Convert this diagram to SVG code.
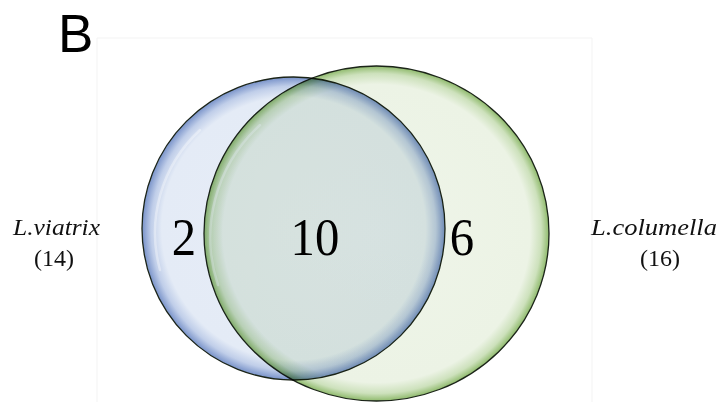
<svg xmlns="http://www.w3.org/2000/svg" width="724" height="402" viewBox="0 0 724 402">
<style>
.num{font-family:"Liberation Serif","Times New Roman",serif;font-size:53px;fill:#000;text-anchor:middle}
.lab{font-family:"Liberation Serif","Times New Roman",serif;font-size:24px;fill:#111}
.it{font-style:italic}
.edge{stroke:#1b2418;stroke-width:1.3}
.hl{fill:none;stroke:#ffffff;stroke-width:2.5;stroke-linecap:round}
</style>
<defs>
<radialGradient id="gBlue" cx="0.5" cy="0.5" r="0.5">
<stop offset="0" stop-color="#e7edf7"/>
<stop offset="0.87" stop-color="#e4ebf6"/>
<stop offset="0.94" stop-color="#c0cee9"/>
<stop offset="1" stop-color="#7892c9"/>
</radialGradient>
<radialGradient id="gGreen" cx="0.5" cy="0.5" r="0.5">
<stop offset="0" stop-color="#eff5e9"/>
<stop offset="0.89" stop-color="#ecf3e5"/>
<stop offset="0.955" stop-color="#cde1bc"/>
<stop offset="1" stop-color="#8fba6c"/>
</radialGradient>
</defs>
<rect width="724" height="402" fill="#ffffff"/>
<path d="M97 402 V38 H592 V402" fill="none" stroke="#f3f3f3" stroke-width="1"/>
<text x="58" y="52" font-family="Liberation Sans, Arial, sans-serif" font-size="53" fill="#000">B</text>
<g id="setA">
<ellipse cx="293.5" cy="228.5" rx="151.5" ry="151.5" fill="url(#gBlue)" class="edge"/>
<path d="M160 270 A140 140 0 0 1 200 130" class="hl" opacity="0.35"/>
</g>
<g id="setB" style="mix-blend-mode:multiply">
<ellipse cx="376.5" cy="233.5" rx="172.5" ry="167.5" fill="url(#gGreen)" class="edge"/>
<path d="M218 285 A160 155 0 0 1 260 125" class="hl" opacity="0.35"/>
</g>
<g id="labels">
<text class="num" x="184" y="255" transform="translate(184 255) scale(0.92 1) translate(-184 -255)">2</text>
<text class="num" x="315" y="255" transform="translate(315 255) scale(0.92 1) translate(-315 -255)">10</text>
<text class="num" x="462" y="255" transform="translate(462 255) scale(0.92 1) translate(-462 -255)">6</text>
<text class="lab it" x="13" y="235" textLength="87" lengthAdjust="spacingAndGlyphs">L.viatrix</text>
<text class="lab" x="54" y="266" text-anchor="middle">(14)</text>
<text class="lab it" x="591" y="235" textLength="126" lengthAdjust="spacingAndGlyphs">L.columella</text>
<text class="lab" x="660" y="266" text-anchor="middle">(16)</text>
</g>
</svg>
